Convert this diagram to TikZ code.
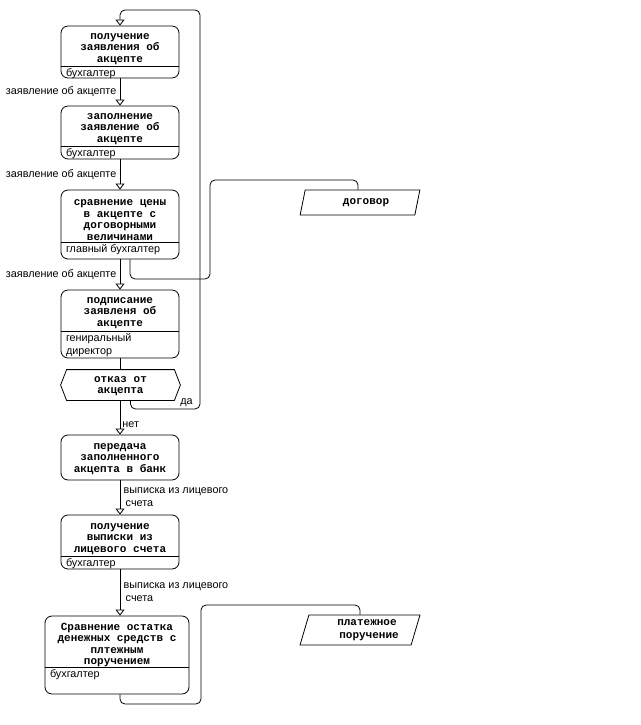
\documentclass[tikz,border=0pt]{standalone}
\usepackage{fontspec}
\setmainfont{Liberation Sans}
\setmonofont{Liberation Mono}
\usetikzlibrary{arrows.meta,positioning,shapes.geometric}

\begin{document}
\begin{tikzpicture}[x=1pt,y=-1pt,line width=0.8pt,
  proc/.style={draw,rounded corners=7,minimum width=118,minimum height=#1,inner sep=0},
  ttl/.style={font=\fontsize{11}{11.5}\selectfont\ttfamily\bfseries,align=center,inner sep=0},
  role/.style={font=\fontsize{10.8}{13}\selectfont,align=left,anchor=north west,inner xsep=5,inner ysep=1.5},
  lbl/.style={font=\fontsize{10.8}{13}\selectfont,align=left},
  doc/.style={draw,trapezium,trapezium left angle=72,trapezium right angle=108,trapezium stretches=true,
    minimum width=120,minimum height=#1,inner sep=0,font=\fontsize{11}{12.5}\selectfont\ttfamily\bfseries,align=center},
  arr/.style={-{Triangle[open,width=9pt,length=6pt]}}]
\useasboundingbox (0,0) rectangle (640,725);
% boxes
\node[proc=52] (b1) at (120,52) {};
\node[ttl] at (120,49) {получение\\заявления об\\акцепте};
\draw ([yshift=12]b1.south west) -- ([yshift=12]b1.south east);
\node[role] at ([yshift=12]b1.south west) {бухгалтер};
\node[proc=53] (b2) at (120,132.5) {};
\node[ttl] at (120,129) {заполнение\\заявление об\\акцепте};
\draw ([yshift=13]b2.south west) -- ([yshift=13]b2.south east);
\node[role] at ([yshift=13]b2.south west) {бухгалтер};
\node[proc=69] (b3) at (120,224.5) {};
\node[ttl] at (120,220) {сравнение цены\\в акцепте с\\договорными\\величинами};
\draw ([yshift=17]b3.south west) -- ([yshift=17]b3.south east);
\node[role] at ([yshift=17]b3.south west) {главный бухгалтер};
\node[proc=68] (b4) at (120,324) {};
\node[ttl] at (120,313) {подписание\\заявленя об\\акцепте};
\draw ([yshift=27]b4.south west) -- ([yshift=27]b4.south east);
\node[role] at ([yshift=27]b4.south west) {гениральный\\директор};
\node[ttl,minimum width=119,minimum height=30,text depth=0] (hx) at (120.5,385) {отказ от\\акцепта};
\draw (hx.west) -- ([xshift=6]hx.north west) -- ([xshift=-6]hx.north east) -- (hx.east)
  -- ([xshift=-6]hx.south east) -- ([xshift=6]hx.south west) -- cycle;
\node[proc=45] (b5) at (120,457.5) {};
\node[ttl] at (120,459) {передача\\заполненного\\акцепта в банк};
\node[proc=54] (b6) at (120,542) {};
\node[ttl] at (120,539) {получение\\выписки из\\лицевого счета};
\draw ([yshift=13]b6.south west) -- ([yshift=13]b6.south east);
\node[role] at ([yshift=13]b6.south west) {бухгалтер};
\node[proc=78,minimum width=144] (b7) at (117,655) {};
\node[ttl] at (117,645) {Сравнение остатка\\денежных средств с\\плтежным\\поручением};
\draw ([yshift=27]b7.south west) -- ([yshift=27]b7.south east);
\node[role] at ([yshift=27]b7.south west) {бухгалтер};
% documents
\node[doc=25] (dg) at (360,202.5) {\hspace{12pt}договор};
\node[doc=30] (pp) at (360,630) {\hspace{14pt}платежное\\\hspace{18pt}поручение};
% flow
\draw[arr] (b1) -- node[left,lbl]{заявление об акцепте} (b2);
\draw[arr] (b2) -- node[left,lbl]{заявление об акцепте} (b3);
\draw[arr] (b3) -- node[left,lbl]{заявление об акцепте} (b4);
\draw (b4) -- (b4.south |- hx.north);
\draw[arr] (hx.south -| b5.north) -- node[right,pos=0.7,lbl,inner sep=2]{нет} (b5);
\draw[arr] (b5) -- node[right,lbl]{выписка из лицевого\\\hspace{2pt}счета} (b6);
\draw[arr] (b6.south) -- node[right,lbl]{выписка из лицевого\\\hspace{2pt}счета} (b6.south |- b7.north);
% loops
\draw[arr,rounded corners=5] ([xshift=10]hx.south) |- (200,409) node[above left,lbl,inner sep=2,xshift=-5]{да}
  -- (200,10) -| (b1.north);
\draw[rounded corners=5] ([xshift=10]b3.south) |- (210,279) -- (210,180) -| ([xshift=-2]dg.north);
\draw[rounded corners=5] ([xshift=3]b7.south) |- (201,704) -- (201,605) -| (pp.north);
\end{tikzpicture}
\end{document}
